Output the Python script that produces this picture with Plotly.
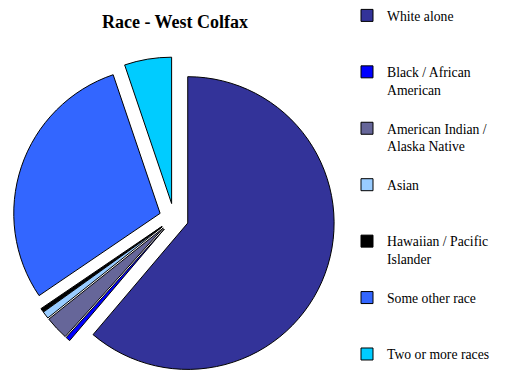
import plotly.graph_objects as go

categories = ["White alone", "Black / African American", "American Indian / Alaska Native",
              "Asian", "Hawaiian / Pacific Islander", "Some other race", "Two or more races"]
legend_labels = ["White alone", "Black / African<br>American", "American Indian /<br>Alaska Native",
                 "Asian", "Hawaiian / Pacific<br>Islander", "Some other race", "Two or more races"]
values = [61.2, 0.5, 2.6, 0.8, 0.4, 29.3, 5.2]
colors = ["#333399", "#0000FF", "#666699", "#99CCFF", "#000000", "#3366FF", "#00CCFF"]

# pad legend entries (except the last) to three lines so the entries are evenly spaced
padded = []
for i, lab in enumerate(legend_labels):
    n = lab.count("<br>") + 1
    pad = 0 if i == len(legend_labels) - 1 else 3 - n
    padded.append(lab + "<br>\u00a0" * pad)

W, H = 508, 379
cx, cy_top, half = 174, 218, 161

fig = go.Figure(go.Pie(
    labels=padded,
    values=values,
    sort=False,
    direction="clockwise",
    rotation=0,
    pull=[0.1] * len(values),
    marker=dict(colors=colors, line=dict(color="black", width=1)),
    textinfo="none",
    hoverinfo="label+percent",
    domain=dict(x=[(cx - half) / W, (cx + half) / W], y=[0, (2 * half) / H]),
))

fig.update_layout(
    width=W, height=H,
    margin=dict(l=0, r=0, t=0, b=0),
    paper_bgcolor="white", plot_bgcolor="white",
    title=dict(text="<b>Race - West Colfax</b>", x=175 / W, xanchor="center", y=1 - 22 / H, yanchor="middle",
               font=dict(family="Liberation Serif", size=18, color="black")),
    legend=dict(x=347 / W, xanchor="left", y=1.0, yanchor="top", valign="top",
                font=dict(family="Liberation Serif", size=13.7, color="black"),
                bgcolor="rgba(0,0,0,0)", tracegroupgap=0),
    showlegend=True,
)

fig.write_html("out.html")
